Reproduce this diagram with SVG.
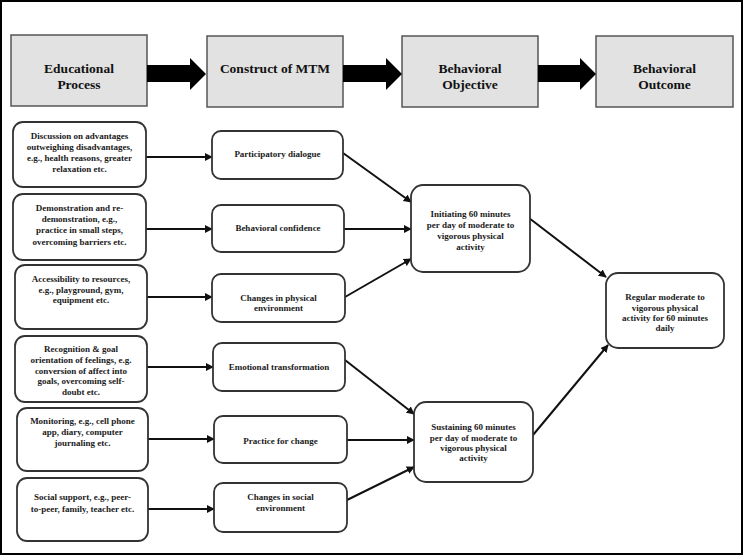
<svg xmlns="http://www.w3.org/2000/svg" width="745" height="556" viewBox="0 0 745 556">
<defs>
<style>
.frame{fill:#fff;stroke:#000;stroke-width:2}
.hdr{fill:#e2e2e2;stroke:#555;stroke-width:1.5}
.blk{fill:#000}
.box{fill:#fff;stroke:#333;stroke-width:1.8}
.ht{font-family:"Liberation Serif","Times New Roman",serif;font-weight:bold;font-size:13.5px;fill:#111;text-anchor:middle}
.t{font-family:"Liberation Serif","Times New Roman",serif;font-weight:bold;font-size:9px;fill:#1a1a1a;text-anchor:middle}
.c{stroke:#111;stroke-width:2;fill:none;marker-end:url(#ah)}
</style>
<marker id="ah" viewBox="0 0 10 10" refX="9" refY="5" markerWidth="4" markerHeight="4" markerUnits="strokeWidth" orient="auto">
<path d="M0,0 L10,5 L0,10 z" fill="#111"/>
</marker>
</defs>
<rect class="frame" x="1" y="1" width="741" height="553"/>

<g id="header">
<g id="h1"><rect class="hdr" x="11" y="35" width="136" height="71"/><text class="ht" x="79" y="72.5">Educational</text><text class="ht" x="79" y="88.5">Process</text></g>
<g id="h2"><rect class="hdr" x="207" y="36" width="136" height="71"/><text class="ht" x="275" y="72.5">Construct of MTM</text></g>
<g id="h3"><rect class="hdr" x="402" y="36" width="136" height="71"/><text class="ht" x="470" y="72.5">Behavioral</text><text class="ht" x="470" y="88.5">Objective</text></g>
<g id="h4"><rect class="hdr" x="596" y="36" width="137" height="71"/><text class="ht" x="664.5" y="72.5">Behavioral</text><text class="ht" x="664.5" y="88.5">Outcome</text></g>
<polygon class="blk" points="147,65 190,65 190,58 206,74 190,90 190,82 147,82"/>
<polygon class="blk" points="343,65 386,65 386,58 402,74 386,90 386,82 343,82"/>
<polygon class="blk" points="538,65 580,65 580,58 596,74 580,90 580,82 538,82"/>
</g>

<g id="connectors">
<line class="c" x1="146" y1="157" x2="212" y2="157"/>
<line class="c" x1="146" y1="229" x2="212" y2="229"/>
<line class="c" x1="147" y1="297" x2="212" y2="297"/>
<line class="c" x1="147" y1="367" x2="213" y2="367"/>
<line class="c" x1="148" y1="439" x2="214" y2="439"/>
<line class="c" x1="148" y1="509" x2="214" y2="509"/>
<line class="c" x1="343" y1="153" x2="411" y2="202"/>
<line class="c" x1="344" y1="229" x2="411" y2="229"/>
<line class="c" x1="345" y1="297" x2="411" y2="259"/>
<line class="c" x1="345" y1="360" x2="414" y2="414"/>
<line class="c" x1="347" y1="440" x2="414" y2="440"/>
<line class="c" x1="347" y1="500" x2="414" y2="467"/>
<line class="c" x1="529" y1="218" x2="606" y2="277"/>
<line class="c" x1="533" y1="435" x2="608" y2="345"/>
</g>

<g id="L1"><rect class="box" x="13" y="122" width="133" height="65" rx="10"/>
<text class="t" x="79.5" y="139">Discussion on advantages</text><text class="t" x="79.5" y="150">outweighing disadvantages,</text><text class="t" x="79.5" y="161">e.g., health reasons, greater</text><text class="t" x="79.5" y="171.5">relaxation etc.</text></g>
<g id="L2"><rect class="box" x="13" y="194" width="133" height="66" rx="10"/>
<text class="t" x="79.5" y="211">Demonstration and re-</text><text class="t" x="79.5" y="222">demonstration, e.g.,</text><text class="t" x="79.5" y="233">practice in small steps,</text><text class="t" x="79.5" y="245">overcoming barriers etc.</text></g>
<g id="L3"><rect class="box" x="15" y="265" width="132" height="64" rx="10"/>
<text class="t" x="81" y="282">Accessibility to resources,</text><text class="t" x="81" y="292.5">e.g., playground, gym,</text><text class="t" x="81" y="303">equipment etc.</text></g>
<g id="L4"><rect class="box" x="15" y="336" width="132" height="66" rx="10"/>
<text class="t" x="81" y="352">Recognition &amp; goal</text><text class="t" x="81" y="363">orientation of feelings, e.g.</text><text class="t" x="81" y="373.5">conversion of affect into</text><text class="t" x="81" y="384">goals, overcoming self-</text><text class="t" x="81" y="395">doubt etc.</text></g>
<g id="L5"><rect class="box" x="17" y="408" width="131" height="63" rx="10"/>
<text class="t" x="82.5" y="424">Monitoring, e.g., cell phone</text><text class="t" x="82.5" y="435">app, diary, computer</text><text class="t" x="82.5" y="445.5">journaling etc.</text></g>
<g id="L6"><rect class="box" x="17" y="478" width="131" height="63" rx="10"/>
<text class="t" x="82.5" y="500">Social support, e.g., peer-</text><text class="t" x="82.5" y="512">to-peer, family, teacher etc.</text></g>

<g id="M1"><rect class="box" x="212" y="131" width="131" height="48" rx="9"/><text class="t" x="277.5" y="157">Participatory dialogue</text></g>
<g id="M2"><rect class="box" x="212" y="205" width="132" height="47" rx="9"/><text class="t" x="278" y="231">Behavioral confidence</text></g>
<g id="M3"><rect class="box" x="212" y="274" width="133" height="48" rx="9"/><text class="t" x="278.5" y="301">Changes in physical</text><text class="t" x="278.5" y="311">environment</text></g>
<g id="M4"><rect class="box" x="213" y="343" width="132" height="48" rx="9"/><text class="t" x="279" y="370">Emotional transformation</text></g>
<g id="M5"><rect class="box" x="214" y="416" width="133" height="47" rx="9"/><text class="t" x="280.5" y="444">Practice for change</text></g>
<g id="M6"><rect class="box" x="214" y="483" width="133" height="49" rx="9"/><text class="t" x="280.5" y="500">Changes in social</text><text class="t" x="280.5" y="511">environment</text></g>

<g id="O1"><rect class="box" x="411" y="185" width="119" height="87" rx="12"/>
<text class="t" x="470.5" y="217">Initiating 60 minutes</text><text class="t" x="470.5" y="228">per day of moderate to</text><text class="t" x="470.5" y="239">vigorous physical</text><text class="t" x="470.5" y="249.5">activity</text></g>
<g id="O2"><rect class="box" x="414" y="402" width="119" height="80" rx="12"/>
<text class="t" x="473.5" y="430">Sustaining 60 minutes</text><text class="t" x="473.5" y="440.5">per day of moderate to</text><text class="t" x="473.5" y="451">vigorous physical</text><text class="t" x="473.5" y="461">activity</text></g>
<g id="F"><rect class="box" x="606" y="273" width="118" height="75" rx="12"/>
<text class="t" x="665" y="300">Regular moderate to</text><text class="t" x="665" y="310.5">vigorous physical</text><text class="t" x="665" y="321">activity for 60 minutes</text><text class="t" x="665" y="331">daily</text></g>
</svg>
